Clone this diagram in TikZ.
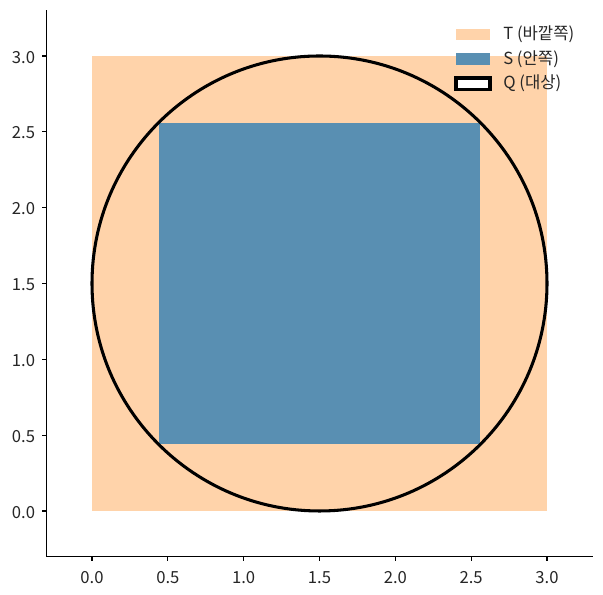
\documentclass[tikz,border=0pt]{standalone}
\usepackage{fontspec}
\setmainfont{Noto Sans CJK KR}
\usetikzlibrary{positioning}
\definecolor{outerpeach}{RGB}{255,211,170}
\definecolor{innerblue}{RGB}{89,143,178}
\definecolor{labelgray}{RGB}{38,38,38}

\begin{document}
\begin{tikzpicture}[x=109.2pt, y=109.2pt, font=\fontsize{12}{14}\selectfont,
  spine/.style={line width=0.8pt, black},
  ticklabel/.style={text=labelgray, inner sep=0pt},
  legendtext/.style={text=labelgray, inner sep=0pt, anchor=west}]

% Manually size the picture
\useasboundingbox (-0.6066,-0.5538) rectangle (3.3692,3.3692);

% Outer square T
\fill[outerpeach] (0,0) rectangle (3,3);

% Inner square S
\fill[innerblue] (0.4393,0.4393) rectangle (2.5607,2.5607);

% Target circle Q
\draw[line width=2.2pt] (1.5,1.5) circle (1.5);

% Axes
\draw[spine] (-0.3,3.3) -- (-0.3,-0.3) -- (3.3,-0.3);
\foreach \v in {0.0,0.5,1.0,1.5,2.0,2.5,3.0} {
  \draw[spine] (\v,-0.3) -- ++(0,-3.5pt) coordinate (xt);
  \node[ticklabel, anchor=north] at ([yshift=-7pt]xt) {\v};
  \draw[spine] (-0.3,\v) -- ++(-3.5pt,0) coordinate (yt);
  \node[ticklabel, anchor=east] at ([xshift=-4.5pt, yshift=-0.8pt]yt) {\v};
}

% Legend
\fill[outerpeach] (2.4,3.105) rectangle (2.624,3.18);
\node[legendtext] at (2.71,3.1425) {T (바깥쪽)};
\fill[innerblue] (2.4,2.943) rectangle (2.624,3.018);
\node[legendtext] at (2.71,2.9805) {S (안쪽)};
\draw[line width=2.2pt, fill=white] (2.4,2.78) rectangle (2.624,2.855);
\node[legendtext] at (2.71,2.8175) {Q (대상)};

\end{tikzpicture}
\end{document}
